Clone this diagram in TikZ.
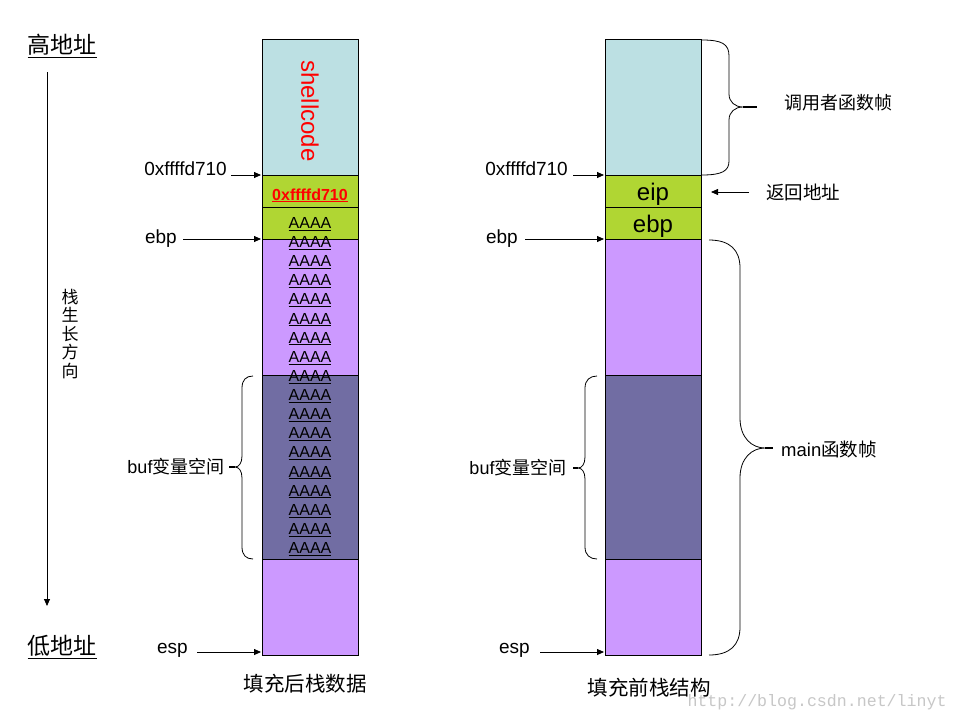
\documentclass[tikz,border=0pt]{standalone}
\usepackage{fontspec}
\setmainfont{Liberation Sans}
\newfontfamily\cjk{Noto Sans CJK SC}
\newfontfamily\wmfont{Liberation Mono}
\usepackage{tikz}
\usetikzlibrary{arrows.meta}
\definecolor{shellc}{RGB}{188,224,227}
\definecolor{framec}{RGB}{176,214,51}
\definecolor{localc}{RGB}{204,153,255}
\definecolor{bufc}{RGB}{113,109,163}

\begin{document}
\begin{tikzpicture}[x=1pt,y=-1pt,
        seg/.style={draw, line width=0.8pt, minimum width=96pt, inner sep=0pt, outer sep=0pt},
        ptr/.style={-{Triangle[length=7pt,width=6pt]}, line width=0.8pt, shorten >=1pt},
        lbl/.style={inner sep=0pt, font=\fontsize{19}{22}\selectfont},
        cn/.style={inner sep=0pt, font=\cjk\fontsize{#1}{#1}\selectfont},
        cn/.default=18,
        aaaa/.style={inner sep=0pt, font=\fontsize{16}{18}\selectfont},
        brace/.style={line width=0.8pt},
        tick/.style={line width=1.6pt},
    ]
    \fill[white] (0,0) rectangle (960,720);
    \useasboundingbox (0,0) rectangle (960,720);
    % address direction
    \node[cn=23] (high) at (62,46) {\underline{高地址}};
    \node[cn=23] (low) at (62,647) {\underline{低地址}};
    \coordinate (gtop) at (47,72);
    \coordinate (gbot) at (47,607);
    \draw[ptr] (gtop) -- (gbot);
    \node[inner sep=0pt, align=center, font=\cjk\fontsize{17}{18.5}\selectfont] (grow) at (70,334) {栈\\生\\长\\方\\向};
    % stack after filling
    \node[seg, fill=shellc, minimum height=136pt] (lsh) at (310,107) {};
    \node[seg, fill=framec, minimum height=32pt] (lret) at (310,191) {};
    \node[seg, fill=framec, minimum height=32pt] (lebp) at (310,223) {};
    \node[seg, fill=localc, minimum height=136pt] (lloc) at (310,307) {};
    \node[seg, fill=bufc, minimum height=184pt] (lbuf) at (310,467) {};
    \node[seg, fill=localc, minimum height=96pt] (lbot) at (310,607) {};
    \node[inner sep=0pt, rotate=-90, text=red, font=\fontsize{24}{26}\selectfont] (shell) at (310,111) {shellcode};
    \node[inner sep=0pt, anchor=base, text=red, font=\bfseries\fontsize{16}{18}\selectfont] (lretv) at (310,200) {\underline{0xffffd710}};
    \foreach \i in {0,...,17}
        \node[aaaa, anchor=base] (a\i) at (310,{228.5+19.12*\i}) {\underline{AAAA}};
    % pointers left
    \node[lbl, anchor=base east] (l0x) at (227,175) {0xffffd710};
    \draw[ptr] ([xshift=4pt]l0x.base east) -- (lsh.south west);
    \node[lbl, anchor=base east] (lebpl) at (177,243) {ebp};
    \draw[ptr] ([xshift=6pt,yshift=4pt]lebpl.base east) -- (lloc.north west);
    \node[lbl, anchor=base east] (lespl) at (188,653) {esp};
    \draw[ptr] ([xshift=9pt,yshift=1pt]lespl.base east) -- ([yshift=3pt]lbot.south west);
    % buf brace left
    \draw[brace] (253,376) .. controls (246,376) and (242,380) .. (242,388) -- (242,456)
        .. controls (242,463) and (239,467) .. (235,467)
        .. controls (239,467) and (242,471) .. (242,478) -- (242,547)
        .. controls (242,555) and (246,559) .. (253,559);
    \draw[tick] (235,467) -- (229,467);
    \node[inner sep=0pt, font=\fontsize{18}{20}\selectfont] (lbufl) at (176,467) {buf{\cjk 变量空间}};
    \node[cn=20.5] (lcap) at (305,684) {填充后栈数据};
    % stack before filling
    \node[seg, fill=shellc, minimum height=136pt] (rsh) at (653,107) {};
    \node[seg, fill=framec, minimum height=32pt] (reip) at (653,191) {};
    \node[seg, fill=framec, minimum height=32pt] (rebp) at (653,223) {};
    \node[seg, fill=localc, minimum height=136pt] (rloc) at (653,307) {};
    \node[seg, fill=bufc, minimum height=184pt] (rbuf) at (653,467) {};
    \node[seg, fill=localc, minimum height=96pt] (rbot) at (653,607) {};
    \node[inner sep=0pt, anchor=base, font=\fontsize{24}{26}\selectfont] (reipv) at (653,200) {eip};
    \node[inner sep=0pt, anchor=base, font=\fontsize{24}{26}\selectfont] (rebpv) at (653,232) {ebp};
    % pointers right
    \node[lbl, anchor=base east] (r0x) at (568,175) {0xffffd710};
    \draw[ptr] ([xshift=5pt]r0x.base east) -- (rsh.south west);
    \node[lbl, anchor=base east] (rebpl) at (518,243) {ebp};
    \draw[ptr] ([xshift=7pt,yshift=4pt]rebpl.base east) -- (rloc.north west);
    \node[lbl, anchor=base east] (respl) at (530,653) {esp};
    \draw[ptr] ([xshift=10pt,yshift=1pt]respl.base east) -- ([yshift=3pt]rbot.south west);
    \node[cn=18.5, anchor=west] (rret) at (766,192) {返回地址};
    \draw[ptr] ([xshift=-17pt]rret.west) -- ([xshift=9pt,yshift=-1pt]reip.east);
    % caller frame brace
    \draw[brace] (702,40) .. controls (722,40) and (729,44) .. (729,56) -- (729,94)
        .. controls (729,102) and (735,107) .. (743,107)
        .. controls (735,107) and (729,112) .. (729,120) -- (729,161)
        .. controls (729,171) and (722,175) .. (702,175);
    \draw[tick] (743,107) -- (757,107);
    \node[cn] (rcall) at (838,103) {调用者函数帧};
    % main frame brace
    \draw[brace] (709,240) .. controls (730,240) and (740,250) .. (740,268) -- (740,418)
        .. controls (740,438) and (752,448) .. (765,448)
        .. controls (752,448) and (740,458) .. (740,478) -- (740,627)
        .. controls (740,645) and (730,655) .. (709,655);
    \draw[tick] (765,448) -- (773,448);
    \node[inner sep=0pt, font=\fontsize{18.5}{20}\selectfont] (rmain) at (829,449) {main{\cjk 函数帧}};
    % buf brace right
    \draw[brace] (597,376) .. controls (590,376) and (585,380) .. (585,388) -- (585,457)
        .. controls (585,464) and (582,468) .. (578,468)
        .. controls (582,468) and (585,472) .. (585,479) -- (585,547)
        .. controls (585,555) and (590,559) .. (597,559);
    \draw[tick] (578,468) -- (573,468);
    \node[inner sep=0pt, font=\fontsize{18}{20}\selectfont] (rbufl) at (518,468) {buf{\cjk 变量空间}};
    \node[cn=20.5] (rcap) at (649,688) {填充前栈结构};
    \node[inner sep=0pt, text=black!22, font=\wmfont\fontsize{16.6}{18}\selectfont] (wm) at (817,702) {http://blog.csdn.net/linyt};
\end{tikzpicture}
\end{document}
